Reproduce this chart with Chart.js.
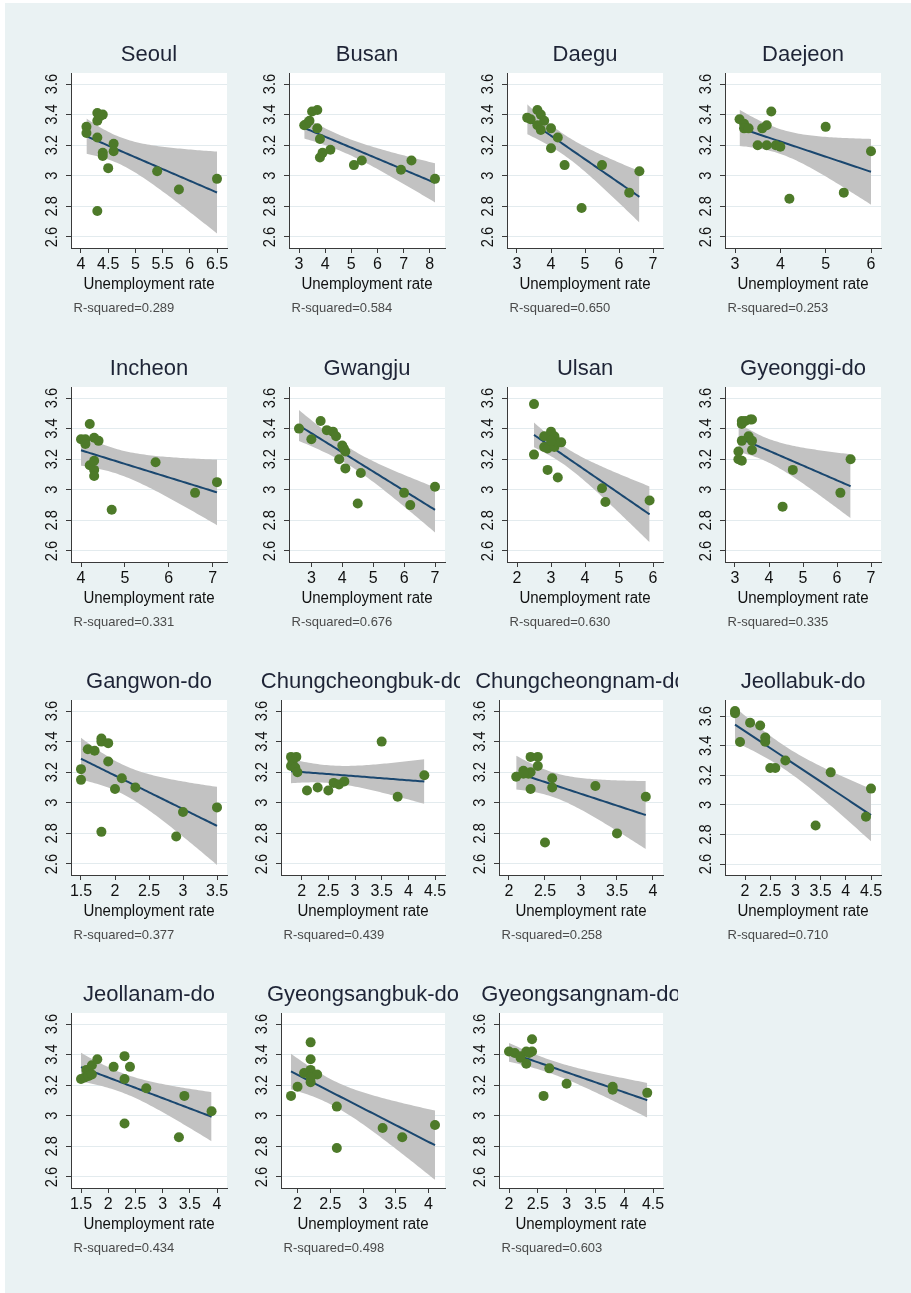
<!DOCTYPE html>
<html>
<head>
<meta charset="utf-8">
<title>Unemployment rate by region</title>
<script src="https://cdn.jsdelivr.net/npm/chart.js@4.4.1/dist/chart.umd.min.js"></script>
<style>
  html, body { margin: 0; padding: 0; background: #ffffff; width: 911px; height: 1293px; overflow: hidden; }
  #graph { position: absolute; left: 5px; top: 3px; width: 906px; height: 1290px; background: #eaf2f3; }
  .panel { position: absolute; }
</style>
</head>
<body>
<div id="graph"></div>
<script>
// ---- data: unemployment rate (x) and outcome (y) per region ----
const regionNames = ["Seoul", "Busan", "Daegu", "Daejeon", "Incheon", "Gwangju", "Ulsan", "Gyeonggi-do",
  "Gangwon-do", "Chungcheongbuk-do", "Chungcheongnam-do", "Jeollabuk-do",
  "Jeollanam-do", "Gyeongsangbuk-do", "Gyeongsangnam-do"];
const rSquaredLabels = ["R-squared=0.289", "R-squared=0.584", "R-squared=0.650", "R-squared=0.253",
  "R-squared=0.331", "R-squared=0.676", "R-squared=0.630", "R-squared=0.335",
  "R-squared=0.377", "R-squared=0.439", "R-squared=0.258", "R-squared=0.710",
  "R-squared=0.434", "R-squared=0.498", "R-squared=0.603"];
const yTickValues = [2.6, 2.8, 3, 3.2, 3.4, 3.6];
const yTickLabels = ["2.6", "2.8", "3", "3.2", "3.4", "3.6"];

const xSeoul = [4.1, 4.1, 4.3, 4.3, 4.35, 4.4, 4.3, 4.4, 4.4, 4.6, 4.6, 4.5, 4.3, 5.4, 5.8, 6.5];
const ySeoul = [3.32, 3.28, 3.41, 3.36, 3.39, 3.40, 3.25, 3.15, 3.13, 3.21, 3.16, 3.05, 2.77, 3.03, 2.91, 2.98];
const ticksSeoul = [4, 4.5, 5, 5.5, 6, 6.5];

const xBusan = [3.2, 3.3, 3.4, 3.5, 3.7, 3.7, 3.8, 3.9, 3.8, 4.2, 5.1, 5.4, 6.9, 7.3, 8.2];
const yBusan = [3.33, 3.34, 3.36, 3.42, 3.43, 3.31, 3.24, 3.15, 3.12, 3.17, 3.07, 3.10, 3.04, 3.10, 2.98];
const ticksBusan = [3, 4, 5, 6, 7, 8];

const xDaegu = [3.3, 3.4, 3.6, 3.7, 3.8, 3.6, 3.7, 4.0, 4.2, 4.0, 4.4, 4.9, 5.5, 6.3, 6.6];
const yDaegu = [3.38, 3.37, 3.43, 3.40, 3.36, 3.33, 3.30, 3.31, 3.25, 3.18, 3.07, 2.79, 3.07, 2.89, 3.03];
const ticksDaegu = [3, 4, 5, 6, 7];

const xDaejeon = [3.1, 3.2, 3.2, 3.3, 3.5, 3.6, 3.7, 3.8, 3.7, 3.9, 4.0, 4.2, 5.0, 5.4, 6.0];
const yDaejeon = [3.37, 3.34, 3.31, 3.31, 3.20, 3.31, 3.33, 3.42, 3.20, 3.20, 3.19, 2.85, 3.32, 2.89, 3.16];
const ticksDaejeon = [3, 4, 5, 6];

const xIncheon = [4.0, 4.1, 4.1, 4.2, 4.3, 4.4, 4.2, 4.3, 4.3, 4.3, 4.7, 5.7, 6.6, 7.1];
const yIncheon = [3.33, 3.33, 3.30, 3.43, 3.34, 3.32, 3.16, 3.19, 3.13, 3.09, 2.87, 3.18, 2.98, 3.05];
const ticksIncheon = [4, 5, 6, 7];

const xGwangju = [2.6, 3.0, 3.3, 3.5, 3.7, 3.8, 4.0, 4.05, 4.1, 3.9, 4.1, 4.6, 4.5, 6.0, 6.2, 7.0];
const yGwangju = [3.40, 3.33, 3.45, 3.39, 3.38, 3.35, 3.29, 3.27, 3.25, 3.20, 3.14, 3.11, 2.91, 2.98, 2.90, 3.02];
const ticksGwangju = [3, 4, 5, 6, 7];

const xUlsan = [2.5, 2.5, 2.8, 2.8, 2.9, 3.0, 3.1, 3.1, 3.2, 3.3, 3.0, 2.9, 3.2, 4.5, 4.6, 5.9];
const yUlsan = [3.56, 3.23, 3.35, 3.28, 3.27, 3.38, 3.35, 3.28, 3.31, 3.31, 3.32, 3.13, 3.08, 3.01, 2.92, 2.93];
const ticksUlsan = [2, 3, 4, 5, 6];

const xGyeonggi = [3.2, 3.2, 3.3, 3.45, 3.5, 3.4, 3.5, 3.5, 3.2, 3.1, 3.1, 3.2, 4.7, 4.4, 6.1, 6.4];
const yGyeonggi = [3.45, 3.43, 3.45, 3.46, 3.46, 3.35, 3.32, 3.26, 3.32, 3.25, 3.20, 3.19, 3.13, 2.89, 2.98, 3.20];
const ticksGyeonggi = [3, 4, 5, 6, 7];

const xGangwon = [1.5, 1.5, 1.6, 1.7, 1.8, 1.8, 1.9, 1.9, 2.1, 2.0, 2.3, 1.8, 3.0, 2.9, 3.5];
const yGangwon = [3.22, 3.15, 3.35, 3.34, 3.42, 3.40, 3.39, 3.27, 3.16, 3.09, 3.10, 2.81, 2.94, 2.78, 2.97];
const ticksGangwon = [1.5, 2, 2.5, 3, 3.5];

const xChungbuk = [1.8, 1.9, 1.83, 1.8, 1.88, 1.92, 2.1, 2.3, 2.5, 2.6, 2.7, 2.8, 3.5, 3.8, 4.3];
const yChungbuk = [3.30, 3.30, 3.27, 3.24, 3.23, 3.20, 3.08, 3.10, 3.08, 3.13, 3.12, 3.14, 3.40, 3.04, 3.18];
const ticksChungbuk = [2, 2.5, 3, 3.5, 4, 4.5];

const xChungnam = [2.1, 2.2, 2.27, 2.3, 2.3, 2.4, 2.4, 2.3, 2.6, 2.6, 2.5, 3.2, 3.5, 3.9, 2.2];
const yChungnam = [3.17, 3.21, 3.19, 3.20, 3.30, 3.30, 3.24, 3.09, 3.16, 3.10, 2.74, 3.11, 2.80, 3.04, 3.19];
const ticksChungnam = [2, 2.5, 3, 3.5, 4];

const xJeonbuk = [1.8, 1.8, 1.9, 2.1, 2.3, 2.4, 2.4, 2.5, 2.6, 2.8, 3.7, 3.4, 4.4, 4.5];
const yJeonbuk = [3.635, 3.62, 3.425, 3.555, 3.537, 3.455, 3.427, 3.25, 3.25, 3.30, 3.22, 2.86, 2.92, 3.11];
const ticksJeonbuk = [2, 2.5, 3, 3.5, 4, 4.5];

const xJeonnam = [1.5, 1.57, 1.6, 1.64, 1.7, 1.7, 1.8, 2.1, 2.3, 2.4, 2.3, 2.3, 2.7, 3.4, 3.3, 3.9];
const yJeonnam = [3.24, 3.25, 3.30, 3.26, 3.27, 3.33, 3.37, 3.32, 3.39, 3.32, 3.24, 2.95, 3.18, 3.13, 2.86, 3.03];
const ticksJeonnam = [1.5, 2, 2.5, 3, 3.5, 4];

const xGyeongbuk = [1.9, 2.0, 2.2, 2.2, 2.2, 2.1, 2.22, 2.3, 2.2, 2.2, 2.6, 2.6, 3.3, 3.6, 4.1];
const yGyeongbuk = [3.13, 3.19, 3.48, 3.37, 3.30, 3.28, 3.27, 3.27, 3.22, 3.25, 3.06, 2.79, 2.92, 2.86, 2.94];
const ticksGyeongbuk = [2, 2.5, 3, 3.5, 4];

const xGyeongnam = [2.0, 2.1, 2.2, 2.2, 2.3, 2.3, 2.4, 2.4, 2.35, 2.7, 2.6, 3.0, 3.8, 3.8, 4.4];
const yGyeongnam = [3.42, 3.41, 3.39, 3.38, 3.42, 3.34, 3.50, 3.42, 3.41, 3.31, 3.13, 3.21, 3.19, 3.17, 3.15];
const ticksGyeongnam = [2, 2.5, 3, 3.5, 4, 4.5];

const panels = [
  [xSeoul, ySeoul, ticksSeoul], [xBusan, yBusan, ticksBusan], [xDaegu, yDaegu, ticksDaegu],
  [xDaejeon, yDaejeon, ticksDaejeon], [xIncheon, yIncheon, ticksIncheon], [xGwangju, yGwangju, ticksGwangju],
  [xUlsan, yUlsan, ticksUlsan], [xGyeonggi, yGyeonggi, ticksGyeonggi], [xGangwon, yGangwon, ticksGangwon],
  [xChungbuk, yChungbuk, ticksChungbuk], [xChungnam, yChungnam, ticksChungnam], [xJeonbuk, yJeonbuk, ticksJeonbuk],
  [xJeonnam, yJeonnam, ticksJeonnam], [xGyeongbuk, yGyeongbuk, ticksGyeongbuk], [xGyeongnam, yGyeongnam, ticksGyeongnam]
].map((d, i) => ({ name: regionNames[i], r2: rSquaredLabels[i], x: d[0], y: d[1], xTicks: d[2] }));

// ---- look & layout ----
const FONT = '"Liberation Sans", Arial, Helvetica, sans-serif';
const TITLE_FONT = '22px ' + FONT;
const INK = '#111111';
const TITLE_INK = '#1e2436';
const AXIS = '#3a3a3a';
const GRID = '#e3ebee';
const GREEN = '#4d7a29';
const NAVY = '#1a476f';
const BAND = '#c2c2c2';

const PANEL_W = 218, PANEL_H = 313;
const PANEL_LEFTS = [24, 242, 460, 678];
const PANEL_TOPS = [13, 327, 640, 953];
const PLOT_TOP = 60, PLOT_H = 175, PLOT_RIGHT = 203;
const TICK_LEN = 5, X_AXIS_H = 40;
const EDGE_X = 10, EDGE_Y = 11;

// Student t 97.5% quantile (Cornish-Fisher expansion)
function tQuantile975(nu) {
  const z = 1.959963985;
  const z3 = z ** 3, z5 = z ** 5, z7 = z ** 7, z9 = z ** 9;
  const g1 = (z3 + z) / 4;
  const g2 = (5 * z5 + 16 * z3 + 3 * z) / 96;
  const g3 = (3 * z7 + 19 * z5 + 17 * z3 - 15 * z) / 384;
  const g4 = (79 * z9 + 776 * z7 + 1482 * z5 - 1920 * z3 - 945 * z) / 92160;
  return z + g1 / nu + g2 / nu ** 2 + g3 / nu ** 3 + g4 / nu ** 4;
}

// OLS fit with 95% confidence band of the mean prediction
function linearFitCI(xs, ys) {
  const n = xs.length;
  const mx = xs.reduce((a, b) => a + b, 0) / n;
  const my = ys.reduce((a, b) => a + b, 0) / n;
  let sxx = 0, sxy = 0;
  for (let i = 0; i < n; i++) { sxx += (xs[i] - mx) ** 2; sxy += (xs[i] - mx) * (ys[i] - my); }
  const b = sxy / sxx, a = my - b * mx;
  let sse = 0;
  for (let i = 0; i < n; i++) sse += (ys[i] - a - b * xs[i]) ** 2;
  const s = Math.sqrt(sse / (n - 2));
  const t = tQuantile975(n - 2);
  const lo = Math.min(...xs), hi = Math.max(...xs);
  const fit = [], upper = [], lower = [];
  const steps = 60;
  for (let k = 0; k <= steps; k++) {
    const x = lo + (hi - lo) * k / steps;
    const yh = a + b * x;
    const se = s * Math.sqrt(1 / n + (x - mx) ** 2 / sxx);
    fit.push({ x, y: yh });
    upper.push({ x, y: yh + t * se });
    lower.push({ x, y: yh - t * se });
  }
  return { fit, upper, lower };
}

// white plot region plus titles, rotated y labels, axis title and R-squared note
const panelText = {
  id: 'panelText',
  beforeDraw(chart) {
    const { ctx, chartArea: ca } = chart;
    ctx.save();
    ctx.fillStyle = '#ffffff';
    ctx.fillRect(ca.left, ca.top, ca.right - ca.left, ca.bottom - ca.top);
    ctx.restore();
  },
  afterDraw(chart, args, o) {
    const { ctx, chartArea: ca } = chart;
    const cx = (ca.left + ca.right) / 2;
    ctx.save();
    ctx.textAlign = 'center';
    ctx.textBaseline = 'middle';
    ctx.fillStyle = TITLE_INK;
    ctx.font = TITLE_FONT;
    ctx.fillText(o.title, cx, ca.top - 18);

    // y tick labels run bottom-to-top, slightly condensed along the text
    ctx.fillStyle = INK;
    ctx.font = '17px ' + FONT;
    const ys = chart.scales.y;
    yTickValues.forEach((v, i) => {
      const py = ys.getPixelForValue(v);
      ctx.save();
      ctx.translate(ca.left - 19, py);
      ctx.rotate(-Math.PI / 2);
      ctx.scale(0.86, 1);
      ctx.fillText(yTickLabels[i], 0, 0);
      ctx.restore();
    });

    ctx.save();
    ctx.font = '16px ' + FONT;
    ctx.translate(cx, ca.bottom + 37);
    ctx.scale(0.94, 1);
    ctx.fillText('Unemployment rate', 0, 0);
    ctx.restore();

    ctx.textAlign = 'left';
    ctx.fillStyle = '#4a4a4a';
    ctx.font = '13px ' + FONT;
    ctx.fillText(o.r2, ca.left + 2.5, ca.bottom + 60);
    ctx.restore();
  }
};

panels.forEach((p, idx) => {
  const col = idx % 4, row = Math.floor(idx / 4);
  const canvas = document.createElement('canvas');
  canvas.className = 'panel';
  canvas.width = PANEL_W; canvas.height = PANEL_H;
  canvas.style.width = PANEL_W + 'px'; canvas.style.height = PANEL_H + 'px';
  canvas.style.left = PANEL_LEFTS[col] + 'px';
  canvas.style.top = PANEL_TOPS[row] + 'px';
  document.body.appendChild(canvas);

  const c2d = canvas.getContext('2d');
  c2d.font = TITLE_FONT;
  const wide = c2d.measureText(p.name).width > 180;
  const plotLeft = wide ? 39 : 47;
  const plotW = PLOT_RIGHT - plotLeft;

  const xLo = Math.min(p.xTicks[0], ...p.x);
  const xHi = Math.max(p.xTicks[p.xTicks.length - 1], ...p.x);
  const xPad = (xHi - xLo) * EDGE_X / (plotW - 2 * EDGE_X);
  const yLo = Math.min(yTickValues[0], ...p.y);
  const yHi = Math.max(yTickValues[yTickValues.length - 1], ...p.y);
  const yPad = (yHi - yLo) * EDGE_Y / (PLOT_H - 2 * EDGE_Y);

  const band = linearFitCI(p.x, p.y);
  const points = p.x.map((x, i) => ({ x, y: p.y[i] }));

  new Chart(canvas, {
    type: 'scatter',
    data: {
      datasets: [
        { type: 'scatter', data: points, pointRadius: 5, pointBackgroundColor: GREEN,
          pointBorderColor: GREEN, pointBorderWidth: 0, order: 0 },
        { type: 'line', data: band.fit, borderColor: NAVY, borderWidth: 2, pointRadius: 0,
          tension: 0, fill: false, order: 1 },
        { type: 'line', data: band.upper, borderColor: 'rgba(0,0,0,0)', borderWidth: 0, pointRadius: 0,
          tension: 0, fill: false, order: 2 },
        { type: 'line', data: band.lower, borderColor: 'rgba(0,0,0,0)', borderWidth: 0, pointRadius: 0,
          tension: 0, fill: '-1', backgroundColor: BAND, order: 3 }
      ]
    },
    options: {
      responsive: false,
      animation: false,
      devicePixelRatio: 1,
      events: [],
      layout: {
        padding: {
          left: plotLeft - TICK_LEN,
          right: PANEL_W - PLOT_RIGHT,
          top: PLOT_TOP,
          bottom: PANEL_H - PLOT_TOP - PLOT_H - X_AXIS_H
        }
      },
      plugins: {
        legend: { display: false },
        tooltip: { enabled: false },
        title: { display: false },
        panelText: { title: p.name, r2: p.r2 }
      },
      scales: {
        x: {
          type: 'linear',
          min: xLo - xPad,
          max: xHi + xPad,
          afterBuildTicks: (s) => { s.ticks = p.xTicks.map(v => ({ value: v })); },
          afterFit: (s) => { s.height = X_AXIS_H; },
          ticks: { color: INK, font: { family: FONT, size: 16 }, padding: 2, autoSkip: false,
                   maxRotation: 0, minRotation: 0, callback: (v) => String(v) },
          grid: { drawOnChartArea: false, drawTicks: true, tickLength: TICK_LEN, tickColor: AXIS, tickWidth: 1 },
          border: { display: true, color: AXIS, width: 1 }
        },
        y: {
          type: 'linear',
          min: yLo - yPad,
          max: yHi + yPad,
          afterBuildTicks: (s) => { s.ticks = yTickValues.map(v => ({ value: v })); },
          afterFit: (s) => { s.width = TICK_LEN; },
          ticks: { display: false },
          grid: { drawOnChartArea: true, color: GRID, lineWidth: 1, drawTicks: true,
                  tickLength: TICK_LEN, tickColor: AXIS, tickWidth: 1 },
          border: { display: true, color: AXIS, width: 1 }
        }
      }
    },
    plugins: [panelText]
  });
});
</script>
</body>
</html>
